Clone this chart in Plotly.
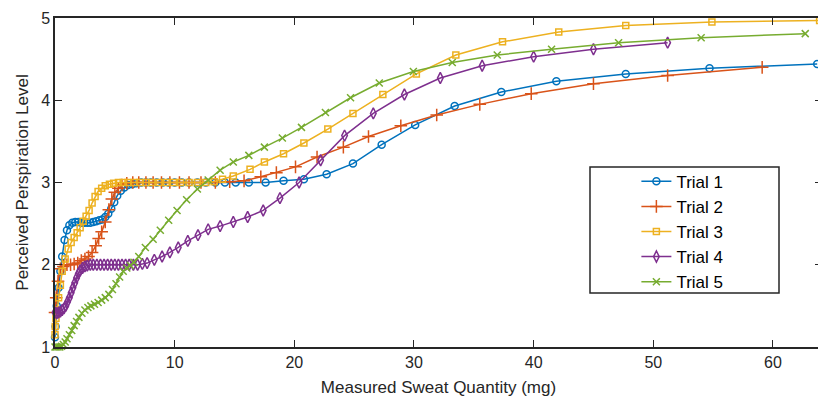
import plotly.graph_objects as go

# ---- data ----
trial_names = ["Trial 1", "Trial 2", "Trial 3", "Trial 4", "Trial 5"]

x1 = [0.0, 0.05, 0.15, 0.3, 0.45, 0.6, 0.8, 1.0, 1.2, 1.45, 1.7, 1.95, 2.2, 2.45, 2.7, 2.95, 3.2, 3.45, 3.7, 3.95,
      4.2, 4.45, 4.7, 4.95, 5.2, 5.5, 5.8, 6.1, 6.45, 6.8, 7.2, 7.6, 8.0, 8.5, 9.0, 9.5, 10.0, 10.6, 11.2, 11.9,
      12.6, 13.4, 14.2, 15.1, 16.2, 17.6, 19.1, 20.8, 22.7, 24.9, 27.3, 30.1, 33.4, 37.3, 41.9, 47.7, 54.7, 63.7]
y1 = [1.12, 1.25, 1.5, 1.72, 1.92, 2.1, 2.3, 2.42, 2.48, 2.51, 2.52, 2.52, 2.51, 2.51, 2.51, 2.51, 2.52, 2.53, 2.54, 2.55,
      2.58, 2.62, 2.68, 2.76, 2.84, 2.9, 2.94, 2.97, 2.98, 2.99, 3.0, 3.0, 3.0, 3.0, 3.0, 3.0, 3.0, 3.0, 3.0, 3.0,
      3.0, 3.0, 3.0, 3.0, 3.0, 3.0, 3.02, 3.04, 3.10, 3.23, 3.46, 3.70, 3.93, 4.10, 4.23, 4.32, 4.39, 4.44]

x2 = [0.0, 0.1, 0.25, 0.45, 0.7, 1.0, 1.3, 1.6, 1.9, 2.2, 2.5, 2.8, 3.1, 3.4, 3.65, 3.9, 4.2, 4.5, 4.75, 5.0,
      5.3, 5.6, 6.0, 6.5, 7.0, 7.6, 8.2, 8.9, 9.6, 10.4, 11.2, 12.2, 13.4, 14.6, 15.8, 17.2, 18.5, 20.1, 21.9, 24.1,
      26.2, 28.9, 31.9, 35.5, 39.8, 45.0, 51.2, 59.1]
y2 = [1.42, 1.6, 1.8, 1.95, 1.98, 2.0, 2.0, 2.01, 2.02, 2.05, 2.07, 2.1, 2.15, 2.23, 2.32, 2.40, 2.52, 2.67, 2.8, 2.88,
      2.93, 2.97, 2.99, 3.0, 3.0, 3.0, 3.0, 3.0, 3.0, 3.0, 3.0, 3.0, 3.0, 3.01, 3.02, 3.07, 3.12, 3.19, 3.31, 3.43,
      3.56, 3.69, 3.82, 3.95, 4.08, 4.20, 4.30, 4.40]

x3 = [0.0, 0.02, 0.08, 0.18, 0.3, 0.45, 0.6, 0.85, 1.1, 1.35, 1.6, 1.85, 2.1, 2.35, 2.6, 2.85, 3.1, 3.35, 3.6, 3.9,
      4.2, 4.55, 4.9, 5.3, 5.7, 6.1, 6.6, 7.1, 7.6, 8.1, 8.7, 9.3, 9.9, 10.5, 11.2, 11.9, 12.6, 13.3, 14.0, 14.9,
      16.3, 17.5, 19.1, 20.8, 22.8, 24.9, 27.4, 30.2, 33.5, 37.4, 42.1, 47.7, 54.9, 63.9]
y3 = [1.15, 1.25, 1.35, 1.45, 1.6, 1.75, 1.92, 2.07, 2.19, 2.27, 2.33, 2.39, 2.45, 2.53, 2.59, 2.66, 2.75, 2.83, 2.89, 2.93,
      2.96, 2.98, 2.99, 3.0, 3.0, 3.0, 3.0, 3.0, 3.0, 3.0, 3.0, 3.0, 3.0, 3.0, 3.0, 3.0, 3.0, 3.01, 3.04, 3.08,
      3.16, 3.25, 3.35, 3.48, 3.65, 3.84, 4.07, 4.32, 4.55, 4.71, 4.83, 4.91, 4.95, 4.97]

x4 = [0.0, 0.15, 0.3, 0.45, 0.6, 0.75, 0.9, 1.05, 1.2, 1.35, 1.5, 1.65, 1.8, 1.95, 2.1, 2.3, 2.5, 2.7, 2.95, 3.2,
      3.5, 3.8, 4.1, 4.4, 4.7, 5.0, 5.3, 5.6, 5.9, 6.2, 6.55, 6.9, 7.3, 7.7, 8.3, 8.95, 9.6, 10.3, 11.1, 11.95,
      12.8, 13.8, 14.9, 16.1, 17.4, 18.8, 20.4, 22.2, 24.2, 26.6, 29.2, 32.2, 35.7, 40.0, 45.0, 51.2]
y4 = [1.42, 1.41, 1.42, 1.43, 1.45, 1.47, 1.5, 1.55, 1.6, 1.66, 1.72, 1.78, 1.84, 1.89, 1.93, 1.96, 1.98, 1.99, 2.0, 2.0,
      2.0, 2.0, 2.0, 2.0, 2.0, 2.0, 2.0, 2.0, 2.0, 2.0, 2.0, 2.0, 2.01, 2.02, 2.06, 2.10, 2.15, 2.21, 2.29, 2.36,
      2.43, 2.47, 2.52, 2.58, 2.66, 2.81, 3.0, 3.27, 3.57, 3.84, 4.07, 4.27, 4.42, 4.53, 4.62, 4.70]

x5 = [0.0, 0.1, 0.25, 0.4, 0.55, 0.7, 0.85, 1.0, 1.2, 1.4, 1.6, 1.8, 2.0, 2.25, 2.5, 2.75, 3.0, 3.3, 3.6, 3.9,
      4.2, 4.5, 4.8, 5.1, 5.4, 5.7, 6.0, 6.3, 6.6, 7.0, 7.55, 8.2, 8.8, 9.5, 10.2, 11.0, 11.9, 12.8, 13.8, 14.9,
      16.2, 17.5, 19.0, 20.6, 22.6, 24.7, 27.1, 29.95, 33.2, 36.96, 41.5, 47.1, 54.0, 62.7]
y5 = [1.0, 1.0, 1.0, 1.0, 1.01, 1.03, 1.06, 1.1, 1.15, 1.2, 1.26, 1.31, 1.36, 1.41, 1.45, 1.48, 1.5, 1.52, 1.54, 1.57,
      1.6, 1.64, 1.7, 1.77, 1.85, 1.92, 1.96, 1.99, 2.03, 2.1, 2.21, 2.31, 2.42, 2.54, 2.66, 2.79, 2.92, 3.03, 3.15, 3.25,
      3.33, 3.43, 3.54, 3.67, 3.85, 4.03, 4.21, 4.35, 4.46, 4.55, 4.62, 4.70, 4.76, 4.81]

xs = [x1, x2, x3, x4, x5]
ys = [y1, y2, y3, y4, y5]

colors = ["#0072BD", "#D95319", "#EDB120", "#7E2F8E", "#77AC30"]
symbols = ["circle-open", "cross-thin-open", "square-open", "diamond-tall-open", "x-thin-open"]
msizes = [7, 9, 6, 8, 7]

FONT = "Liberation Sans, Arial, Helvetica, sans-serif"
AX = "#262626"

fig = go.Figure()
for name, x, y, c, s, ms in zip(trial_names, xs, ys, colors, symbols, msizes):
    fig.add_trace(go.Scatter(
        x=x, y=y, name=name, mode="lines+markers",
        line=dict(color=c, width=1.5),
        marker=dict(symbol=s, size=ms, color=c, line=dict(color=c, width=1.5)),
        cliponaxis=False,
    ))

axis_common = dict(
    showline=True, linecolor=AX, linewidth=1.5, mirror="allticks",
    ticks="inside", ticklen=7, tickcolor=AX, tickwidth=1,
    showgrid=False, zeroline=False, automargin=False,
    tickfont=dict(family=FONT, size=16, color=AX),
)

# page body adds an 8px offset; the figure is sized to compensate
L, T, PW, PH = 47, 10, 767, 329

fig.update_layout(
    width=818, height=395,
    margin=dict(l=L, r=818 - L - PW, t=T, b=395 - T - PH),
    paper_bgcolor="white", plot_bgcolor="white",
    font=dict(family=FONT, color=AX),
    xaxis=dict(range=[0, 64.1], dtick=10, tick0=0,
               title=dict(text="Measured Sweat Quantity (mg)", font=dict(family=FONT, size=17, color=AX), standoff=11),
               **axis_common),
    yaxis=dict(range=[1, 5], dtick=1, tick0=1,
               title=dict(text="Perceived Perspiration Level", font=dict(family=FONT, size=17, color=AX), standoff=8),
               **axis_common),
    showlegend=True,
    legend=dict(x=0.758, y=0.557, xanchor="left", yanchor="top",
                bgcolor="rgba(0,0,0,0)", borderwidth=0,
                font=dict(family=FONT, size=17, color="black"),
                tracegroupgap=0),
    shapes=[dict(type="rect", xref="paper", yref="paper",
                 x0=(590 - 55) / PW, x1=(779 - 55) / PW,
                 y0=1 - (293 - 18) / PH, y1=1 - (167 - 18) / PH,
                 line=dict(color=AX, width=1.5), fillcolor="white", layer="below")],
)

fig.write_html("out.html")
